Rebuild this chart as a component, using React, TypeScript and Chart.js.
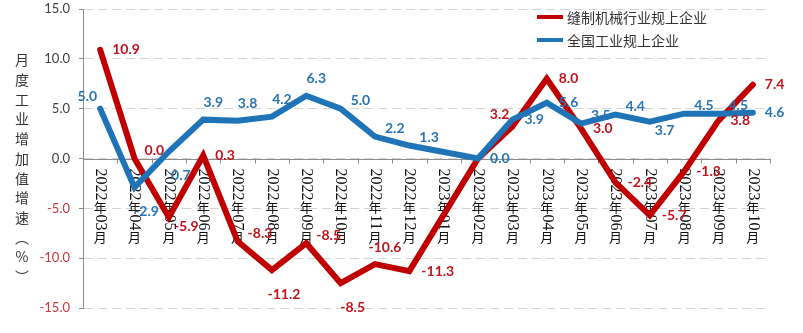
import React, { useEffect, useRef } from 'react';
import { Chart, registerables } from 'chart.js';

Chart.register(...registerables);

const categories = [
  '2022年03月', '2022年04月', '2022年05月', '2022年06月', '2022年07月',
  '2022年08月', '2022年09月', '2022年10月', '2022年11月', '2022年12月',
  '2023年01月', '2023年02月', '2023年03月', '2023年04月', '2023年05月',
  '2023年06月', '2023年07月', '2023年08月', '2023年09月', '2023年10月',
];

const seriesNames = ['缝制机械行业规上企业', '全国工业规上企业'];

const sewingMachinery = [10.9, 0.0, -5.9, 0.3, -8.3, -11.2, -8.5, -12.5, -10.6, -11.3, null, 0.0, 3.2, 8.0, 3.0, -2.4, -5.7, -1.3, 3.8, 7.4];
const nationalIndustry = [5.0, -2.9, 0.7, 3.9, 3.8, 4.2, 6.3, 5.0, 2.2, 1.3, null, 0.0, 3.9, 5.6, 3.5, 4.4, 3.7, 4.5, 4.5, 4.6];

const sewingLabels = ['10.9', '0.0', '-5.9', '0.3', '-8.3', '-11.2', '-8.5', '-8.5', '-10.6', '-11.3', null, null, '3.2', '8.0', '3.0', '-2.4', '-5.7', '-1.3', '3.8', '7.4'];
const nationalLabels = ['5.0', '-2.9', '0.7', '3.9', '3.8', '4.2', '6.3', '5.0', '2.2', '1.3', null, '0.0', '3.9', '5.6', '3.5', '4.4', '3.7', '4.5', '4.5', '4.6'];

// placement codes for data labels
const sewingLabelPlace = ['r', 'ra', 'rb', 'r', 'ra', 'b', 'ra', 'b', 'a', 'r', null, null, 'la', 'r', 'r', 'r', 'r', 'r', 'r', 'r'];
const nationalLabelPlace = ['la', 'b', 'b', 'a', 'a', 'a', 'a', 'ra', 'ra', 'ra', null, 'r', 'r', 'r', 'ra', 'ra', 'rb', 'ra', 'ra', 'r'];

const yMin = -15;
const yMax = 15;
const yStep = 5;

const axisTitle = '月度工业增加值增速（%）';

const RED = '#C00000';
const BLUE = '#1F74B8';
const RED_LABEL = '#C0141C';
const BLUE_LABEL = '#2A74B4';
const NEG_TICK = '#C8383C';

const placeTable: Record<string, { dx: number; dy: number; align: CanvasTextAlign }> = {
  r: { dx: 12, dy: 0, align: 'left' },
  ra: { dx: 10, dy: -8, align: 'left' },
  rb: { dx: 5, dy: 9, align: 'left' },
  a: { dx: 10, dy: -17, align: 'center' },
  b: { dx: 12, dy: 24, align: 'center' },
  la: { dx: -3, dy: -12, align: 'right' },
};

function drawVerticalLabel(ctx: CanvasRenderingContext2D, text: string, x: number, yStart: number) {
  const segs = text.match(/\d+|[^\d]/g) || [];
  let y = yStart;
  for (const s of segs) {
    if (/\d/.test(s)) {
      ctx.font = '16px "Liberation Serif"';
      const w = ctx.measureText(s).width;
      ctx.save();
      ctx.translate(x, y);
      ctx.rotate(Math.PI / 2);
      ctx.textAlign = 'left';
      ctx.textBaseline = 'middle';
      ctx.fillText(s, 0, 0);
      ctx.restore();
      y += w;
    } else {
      ctx.font = '13px "Noto Sans CJK SC"';
      ctx.textAlign = 'center';
      ctx.textBaseline = 'middle';
      ctx.fillText(s, x, y + 7);
      y += 14;
    }
  }
}

const decorPlugin = {
  id: 'decor',
  beforeDatasetsDraw(chart: any) {
    const { ctx, chartArea, scales } = chart;
    const y0 = scales.y.getPixelForValue(0);
    const n = categories.length;
    const band = (chartArea.right - chartArea.left) / n;
    ctx.save();
    // zero axis line
    ctx.strokeStyle = '#8c8c8c';
    ctx.lineWidth = 1;
    ctx.beginPath();
    ctx.moveTo(chartArea.left, Math.round(y0) + 0.5);
    ctx.lineTo(chartArea.right, Math.round(y0) + 0.5);
    ctx.stroke();
    // tick marks between categories
    for (let i = 0; i <= n; i++) {
      const x = Math.round(chartArea.left + i * band) + 0.5;
      ctx.beginPath();
      ctx.moveTo(x, y0);
      ctx.lineTo(x, y0 + 5);
      ctx.stroke();
    }
    // vertical category labels
    ctx.fillStyle = '#111111';
    categories.forEach((c, i) => {
      const x = scales.x.getPixelForValue(i);
      drawVerticalLabel(ctx, c, x, y0 + 10);
    });
    ctx.restore();
  },
  afterDatasetsDraw(chart: any) {
    const { ctx } = chart;
    const sets = [
      { idx: 0, labels: sewingLabels, place: sewingLabelPlace, color: RED_LABEL },
      { idx: 1, labels: nationalLabels, place: nationalLabelPlace, color: BLUE_LABEL },
    ];
    ctx.save();
    ctx.font = 'bold 14px Lato';
    ctx.textBaseline = 'middle';
    for (const s of sets) {
      const meta = chart.getDatasetMeta(s.idx);
      ctx.fillStyle = s.color;
      s.labels.forEach((txt, i) => {
        const code = s.place[i];
        if (!txt || !code) return;
        const el = meta.data[i];
        if (!el || isNaN(el.y)) return;
        const p = placeTable[code];
        ctx.textAlign = p.align;
        ctx.fillText(txt, el.x + p.dx, el.y + p.dy);
      });
    }
    ctx.restore();
  },
  afterDraw(chart: any) {
    const { ctx } = chart;
    ctx.save();
    // legend
    const colors = [RED, BLUE];
    seriesNames.forEach((name, i) => {
      const y = 17 + i * 23;
      ctx.strokeStyle = colors[i];
      ctx.lineWidth = 4;
      ctx.lineCap = 'butt';
      ctx.beginPath();
      ctx.moveTo(537, y);
      ctx.lineTo(563, y);
      ctx.stroke();
      ctx.fillStyle = '#333333';
      ctx.font = '14px "Noto Sans CJK SC"';
      ctx.textAlign = 'left';
      ctx.textBaseline = 'middle';
      ctx.fillText(name, 567, y + 1);
    });
    // vertical axis title
    ctx.fillStyle = '#333333';
    ctx.font = '14px "Noto Sans CJK SC"';
    ctx.textAlign = 'center';
    ctx.textBaseline = 'middle';
    Array.from(axisTitle).forEach((ch, i) => {
      const c = ch === '（' ? '︵' : ch === '）' ? '︶' : ch;
      ctx.fillText(c, 22, 60 + i * 19.7);
    });
    ctx.restore();
  },
};

export default function App() {
  const canvasRef = useRef<HTMLCanvasElement | null>(null);

  useEffect(() => {
    if (!canvasRef.current) return;
    const chart = new Chart(canvasRef.current, {
      type: 'line',
      data: {
        labels: categories,
        datasets: [
          {
            label: seriesNames[0],
            data: sewingMachinery,
            borderColor: RED,
            backgroundColor: RED,
            borderWidth: 6,
            pointRadius: 0,
            tension: 0,
            spanGaps: true,
            borderJoinStyle: 'miter',
            borderCapStyle: 'round',
            order: 1,
          },
          {
            label: seriesNames[1],
            data: nationalIndustry,
            borderColor: BLUE,
            backgroundColor: BLUE,
            borderWidth: 6,
            pointRadius: 0,
            tension: 0,
            spanGaps: true,
            borderJoinStyle: 'miter',
            borderCapStyle: 'round',
            order: 0,
          },
        ],
      },
      options: {
        animation: false,
        responsive: false,
        devicePixelRatio: 1,
        layout: { padding: { left: 0, right: 33, top: 9, bottom: 25 } },
        plugins: {
          legend: { display: false },
          tooltip: { enabled: false },
        },
        scales: {
          x: {
            type: 'category',
            display: false,
            offset: true,
          },
          y: {
            min: yMin,
            max: yMax,
            afterFit: (scale: any) => {
              scale.width = 83;
              scale.paddingTop = 0;
              scale.paddingBottom = 0;
            },
            ticks: {
              stepSize: yStep,
              padding: 9,
              font: { family: 'Lato', size: 13 },
              color: (ctx: any) => (ctx.tick && ctx.tick.value < 0 ? NEG_TICK : '#404040'),
              callback: (v: any) => Number(v).toFixed(1),
            },
            grid: {
              color: '#d4d4d4',
              tickColor: '#8c8c8c',
              tickLength: 4,
              drawTicks: true,
            },
            border: {
              display: true,
              color: '#8c8c8c',
              dash: [9, 5],
            },
          },
        },
      },
      plugins: [decorPlugin],
    });
    return () => chart.destroy();
  }, []);

  return (
    <div style={{ position: 'fixed', left: 0, top: 0, width: 803, height: 333, background: '#ffffff' }}>
      <canvas ref={canvasRef} width={803} height={333} style={{ display: 'block' }} />
    </div>
  );
}
